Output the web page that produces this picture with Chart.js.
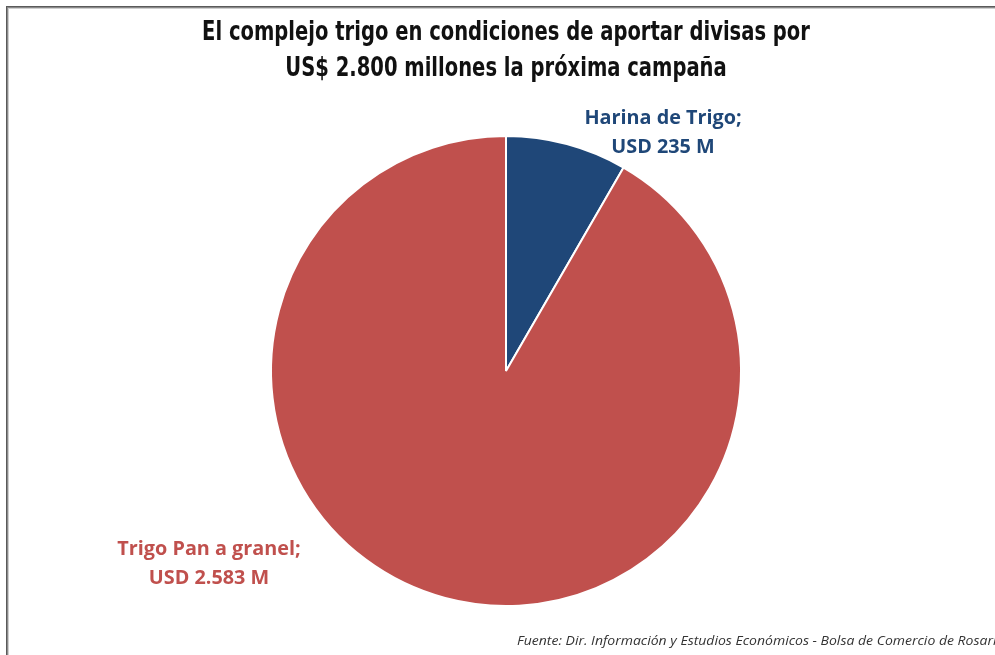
<!DOCTYPE html>
<html>
<head>
<meta charset="utf-8">
<script src="https://cdn.jsdelivr.net/npm/chart.js@4.4.1/dist/chart.umd.min.js"></script>
<style>
  html, body { margin: 0; padding: 0; background: #ffffff; }
  #wrap { width: 995px; height: 655px; position: relative; }
</style>
</head>
<body>
<div id="wrap"><canvas id="c" width="995" height="655"></canvas></div>
<script>
const titleLines = ["El complejo trigo en condiciones de aportar divisas por", "US$ 2.800 millones la próxima campaña"];
const categories = ["Harina de Trigo", "Trigo Pan a granel"];
const valueLabels = ["USD 235 M", "USD 2.583 M"];
const values = [235, 2583];
const sliceColors = ["#1F4778", "#C0504D"];
const sourceText = "Fuente: Dir. Información y Estudios Económicos - Bolsa de Comercio de Rosario";

const condensed = '"DejaVu Sans Condensed", "DejaVu Sans", sans-serif';

function squeezedText(ctx, text, x, y, sx) {
  ctx.save();
  ctx.translate(x, y);
  ctx.scale(sx, 1);
  ctx.fillText(text, 0, 0);
  ctx.restore();
}

const decor = {
  id: 'decor',
  afterDraw(chart) {
    const ctx = chart.ctx;
    ctx.save();
    // frame (top and left)
    const shades = ['#5a5a5a', '#8a8a8a', '#cfcfcf'];
    shades.forEach((c, i) => {
      ctx.fillStyle = c;
      ctx.fillRect(6 + i, 6 + i, 995, 1);
      ctx.fillRect(6 + i, 6 + i, 1, 655);
    });
    // title
    ctx.fillStyle = '#111111';
    ctx.textAlign = 'center';
    ctx.textBaseline = 'middle';
    ctx.font = 'bold 27px ' + condensed;
    titleLines.forEach((t, i) => squeezedText(ctx, t, 506, 33 + i * 36, 0.805));

    // data labels
    const meta = chart.getDatasetMeta(0);
    const offsets = [[157, -253], [-297, 178]];
    ctx.font = 'bold 20px "Open Sans", "Noto Sans", sans-serif';
    meta.data.forEach((arc, i) => {
      const x = arc.x + offsets[i][0];
      const y = arc.y + offsets[i][1];
      ctx.fillStyle = sliceColors[i];
      squeezedText(ctx, categories[i] + ';', x, y, 0.99);
      squeezedText(ctx, valueLabels[i], x, y + 29, 0.99);
    });

    // source
    ctx.textAlign = 'left';
    ctx.fillStyle = '#333333';
    ctx.font = 'italic 12.5px "Open Sans", "Noto Sans", sans-serif';
    squeezedText(ctx, sourceText, 517, 641, 1.12);
    ctx.restore();
  }
};

new Chart(document.getElementById('c'), {
  type: 'pie',
  data: {
    labels: categories,
    datasets: [{
      data: values,
      backgroundColor: sliceColors,
      borderColor: '#ffffff',
      borderWidth: 2
    }]
  },
  options: {
    responsive: false,
    animation: false,
    layout: { padding: { top: 134, bottom: 47, left: 270, right: 253 } },
    plugins: {
      legend: { display: false },
      tooltip: { enabled: false },
      title: { display: false }
    }
  },
  plugins: [decor]
});
</script>
</body>
</html>
